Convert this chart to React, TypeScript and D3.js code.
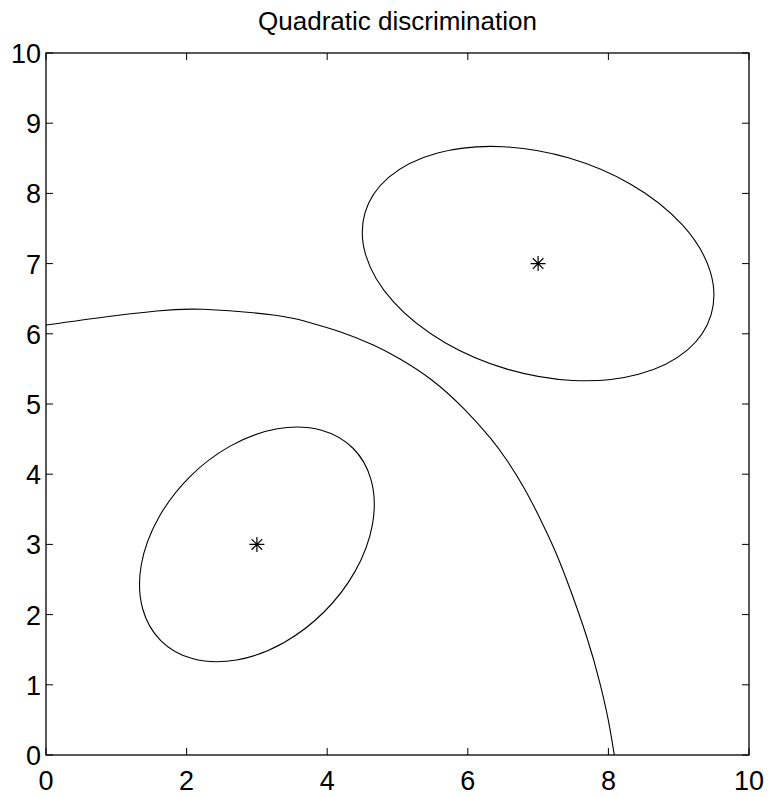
import React from "react";
import * as d3 from "d3";

const title = "Quadratic discrimination";
const xTicks = [0, 2, 4, 6, 8, 10];
const yTicks = [0, 1, 2, 3, 4, 5, 6, 7, 8, 9, 10];

// class means (star markers)
const meanX = [3, 7];
const meanY = [3, 7];

// ellipse contours: semi-axes (data units) and tilt angle (degrees, counter-clockwise)
const ellipseRx = [1.934, 2.566];
const ellipseRy = [1.357, 1.567];
const ellipseAngle = [45, -16.4];

// decision boundary
const boundaryX = [0.0, 0.863, 1.575, 2.233, 3.233, 3.708, 4.182, 4.656, 5.036, 5.487, 5.936, 6.316, 6.553, 6.79, 7.027, 7.216, 7.407, 7.691, 7.88, 7.998, 8.084];
const boundaryY = [6.125, 6.244, 6.325, 6.349, 6.268, 6.172, 6.03, 5.84, 5.64, 5.342, 4.94, 4.52, 4.202, 3.822, 3.37, 2.967, 2.493, 1.685, 1.021, 0.499, 0.0];

const W = 768;
const H = 797;
const L = 46;
const R = 749;
const T = 53;
const B = 755;
const FONT = "'Liberation Sans', Arial, Helvetica, sans-serif";

export default function App() {
  const x = d3.scaleLinear().domain([0, 10]).range([L, R]);
  const y = d3.scaleLinear().domain([0, 10]).range([B, T]);
  const tickLen = 7;

  const pts = boundaryX.map((v, i) => [v, boundaryY[i]] as [number, number]);
  const line = d3
    .line<[number, number]>()
    .x((d) => x(d[0]))
    .y((d) => y(d[1]))
    .curve(d3.curveNatural);

  const star = (cx: number, cy: number, r: number) => {
    const d = r * Math.SQRT1_2;
    return `M${cx - r},${cy}L${cx + r},${cy}M${cx},${cy - r}L${cx},${cy + r}M${cx - d},${cy - d}L${cx + d},${cy + d}M${cx - d},${cy + d}L${cx + d},${cy - d}`;
  };

  return (
    <svg
      width={W}
      height={H}
      style={{ position: "fixed", left: 0, top: 0, background: "#fff" }}
      fontFamily={FONT}
    >
      <rect x={0} y={0} width={W} height={H} fill="#fff" />
      <defs>
        <clipPath id="plotclip">
          <rect x={L} y={T} width={R - L} height={B - T} />
        </clipPath>
      </defs>
      <text x={(L + R) / 2} y={30} textAnchor="middle" fontSize={26} fill="#000">
        {title}
      </text>

      <g clipPath="url(#plotclip)" fill="none" stroke="#000" strokeWidth={1.1}>
        <path d={line(pts) || ""} />
        {meanX.map((mx, i) => {
          const cx = x(mx);
          const cy = y(meanY[i]);
          return (
            <ellipse
              key={i}
              cx={cx}
              cy={cy}
              rx={x(ellipseRx[i]) - x(0)}
              ry={y(0) - y(ellipseRy[i])}
              transform={`rotate(${-ellipseAngle[i]} ${cx} ${cy})`}
            />
          );
        })}
        {meanX.map((mx, i) => (
          <path key={"s" + i} d={star(x(mx), y(meanY[i]), 7.5)} strokeWidth={1.2} />
        ))}
      </g>

      <g stroke="#000" strokeWidth={1}>
        {xTicks.map((t) => (
          <g key={"xt" + t}>
            <line x1={x(t)} x2={x(t)} y1={B} y2={B - tickLen} />
            <line x1={x(t)} x2={x(t)} y1={T} y2={T + tickLen} />
          </g>
        ))}
        {yTicks.map((t) => (
          <g key={"yt" + t}>
            <line x1={L} x2={L + tickLen} y1={y(t)} y2={y(t)} />
            <line x1={R} x2={R - tickLen} y1={y(t)} y2={y(t)} />
          </g>
        ))}
      </g>
      <rect x={L} y={T} width={R - L} height={B - T} fill="none" stroke="#000" strokeWidth={1.3} />

      <g fontSize={27} fill="#000">
        {xTicks.map((t) => (
          <text key={"xl" + t} x={x(t)} y={B + 35} textAnchor="middle">
            {t}
          </text>
        ))}
        {yTicks.map((t) => (
          <text key={"yl" + t} x={L - 5} y={y(t) + 10} textAnchor="end">
            {t}
          </text>
        ))}
      </g>
    </svg>
  );
}
